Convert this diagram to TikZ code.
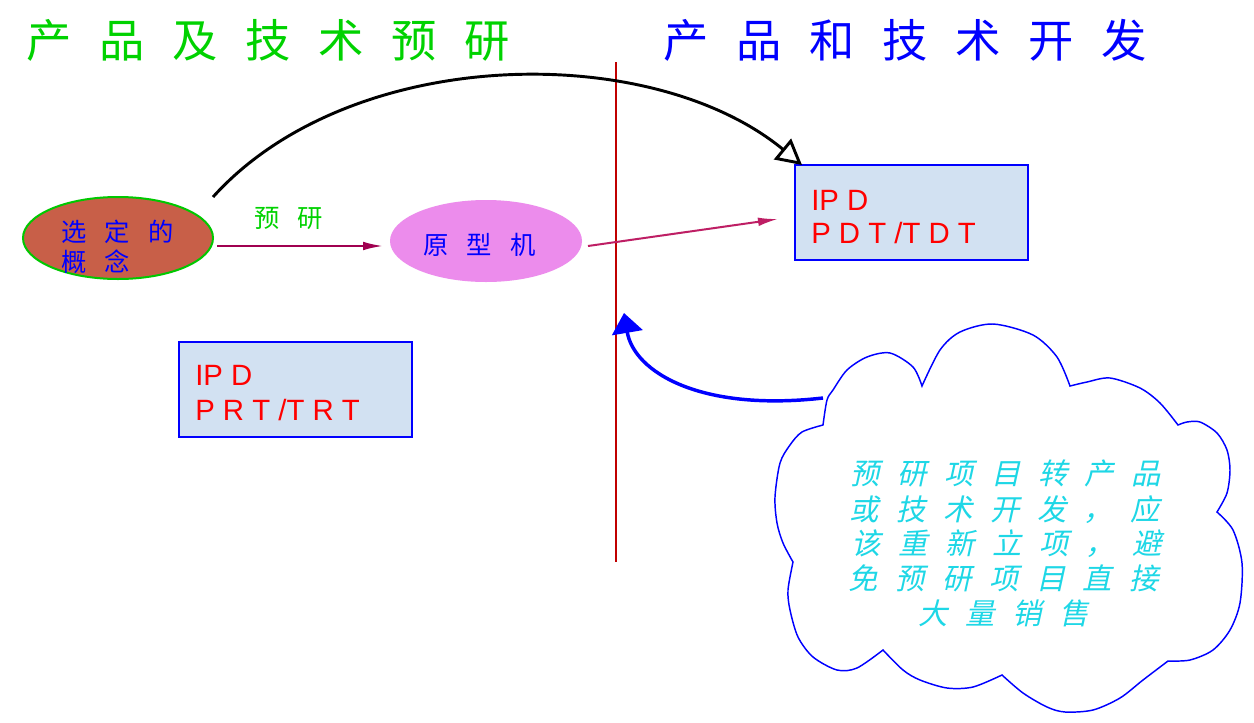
\documentclass[tikz,border=0pt]{standalone}
\usepackage{fontspec}
\setmainfont{Liberation Sans}
\newfontfamily\cjk{Noto Sans CJK SC}
\newfontfamily\cjktitle[LetterSpace=61]{Noto Sans CJK SC}
\newfontfamily\cjkell[LetterSpace=72]{Noto Sans CJK SC}
\newfontfamily\cjkcloud[LetterSpace=60,FakeSlant=0.22]{Noto Sans CJK SC}
\usetikzlibrary{arrows.meta,shapes.geometric}
\definecolor{tgreen}{RGB}{0,210,0}
\definecolor{tblue}{RGB}{0,0,255}
\definecolor{lred}{RGB}{192,0,0}
\definecolor{conc}{RGB}{200,95,72}
\definecolor{egreen}{RGB}{0,200,0}
\definecolor{proto}{RGB}{236,140,236}
\definecolor{arrone}{RGB}{160,0,80}
\definecolor{arrtwo}{RGB}{190,30,100}
\definecolor{boxfill}{RGB}{210,225,242}
\definecolor{cyantext}{RGB}{30,215,230}
\definecolor{txtred}{RGB}{255,0,0}
\tikzset{
  titletext/.style={anchor=base west,inner sep=0pt,font=\cjktitle\fontsize{34pt}{34pt}\selectfont},
  elltext/.style={anchor=base west,inner sep=0pt,text=tblue,font=\cjkell\fontsize{19pt}{19pt}\selectfont},
  cloudtext/.style={anchor=base west,inner sep=0pt,text=cyantext,font=\cjkcloud\fontsize{22pt}{22pt}\selectfont},
  boxtext/.style={anchor=base west,inner sep=0pt,text=txtred,font=\fontsize{22pt}{22pt}\selectfont},
  ipdbox/.style={draw=tblue,fill=boxfill,line width=1.5pt,rectangle,inner sep=0pt,
    minimum width=233*0.75pt,minimum height=95*0.75pt},
  flowarrow/.style={line width=1.5pt,-{Latex[length=15pt,width=6.5pt]}},
}
\begin{document}
\begin{tikzpicture}[x=0.75pt,y=-0.75pt]
\useasboundingbox[fill=white] (0,0) rectangle (1254,722);

% titles
\node[titletext,text=tgreen] (tleft) at (26,57) {产品及技术预研};
\node[titletext,text=tblue] (tright) at (663,57) {产品和技术开发};

% divider
\coordinate (ltop) at (616,62);
\coordinate (lbot) at (616,562);
\draw[lred,line width=1.5pt] (ltop) -- (lbot);

% ellipses
\node[ellipse,fill=conc,draw=egreen,line width=1.5pt,minimum width=190*0.75pt,minimum height=82*0.75pt] (concept) at (118,238) {};
\node[elltext] (ct1) at (61,241.5) {选定的};
\node[elltext] (ct2) at (61,271.5) {概念};

\node[ellipse,fill=proto,minimum width=192*0.75pt,minimum height=82*0.75pt] (proto) at (486,241) {};
\node[elltext] (pt) at (423,254.5) {原型机};

% arrows
\draw[flowarrow,arrone] (217,246) -- (383,246);
\node[elltext,text=tgreen] (yy) at (254,227) {预研};

% boxes
\node[ipdbox] (pdt) at (911.5,212.5) {};
\node[boxtext] (pdt1) at (811,210) {IP D};
\node[boxtext] (pdt2) at (811,243) {P D T /T D T};

\node[ipdbox] (prt) at (295.5,389.5) {};
\node[boxtext] (prt1) at (195,385) {IP D};
\node[boxtext] (prt2) at (195,420) {P R T /T R T};

\coordinate (p2s) at (588,246);
\coordinate (p2e) at (778,219);
\draw[flowarrow,arrtwo] (p2s) -- (p2e);

% big black arc
\coordinate (arcstart) at (213,197);
\coordinate (arcend) at (802,165);
\draw[black,line width=2.2pt,-{Triangle[open,length=19pt,width=20pt]}]
  (arcstart) .. controls (350,45) and (650,40) .. (arcend);

% cloud
\draw[tblue,line width=1.1pt,fill=white]
  plot[smooth] coordinates {(823,425)(802,432)(790,445)(780,463)(775,497)(777,523)(783,543)(793,562)}
  -- plot[smooth] coordinates {(793,562)(788,590)(790,610)(798,637)(813,657)(837,670)(857,668)(883,650)}
  -- plot[smooth] coordinates {(883,650)(903,670)(920,680)(947,688)(973,687)(1002,675)}
  -- plot[smooth] coordinates {(1002,675)(1023,693)(1047,707)(1065,712)(1093,710)(1120,698)(1143,680)(1168,661)}
  -- plot[smooth] coordinates {(1168,661)(1190,660)(1213,650)(1230,630)(1240,603)(1242,563)(1233,530)(1217,512)}
  -- plot[smooth] coordinates {(1217,512)(1227,493)(1230,470)(1227,450)(1217,433)(1200,422)(1187,422)(1178,425)}
  -- plot[smooth] coordinates {(1178,425)(1160,403)(1140,388)(1110,378)(1087,382)(1070,386)}
  -- plot[smooth] coordinates {(1070,386)(1057,357)(1033,335)(993,324)(960,332)(940,350)(922,386)}
  -- plot[smooth] coordinates {(922,386)(913,367)(890,353)(867,357)(847,370)(833,390)(827,400)(823,425)}
  -- cycle;

\node[cloudtext] (c1) at (850,484) {预研项目转产品};
\node[cloudtext] (c2) at (849,520) {或技术开发，应};
\node[cloudtext] (c3) at (851,554) {该重新立项，避};
\node[cloudtext] (c4) at (848,589) {免预研项目直接};
\node[cloudtext] (c5) at (918,624) {大量销售};

% blue arrow
\coordinate (cloudtip) at (823,398);
\coordinate (linetip) at (624,313);
\draw[tblue,line width=2.6pt,-{Triangle[length=15pt,width=23pt]}]
  (cloudtip) .. controls (700,412) and (634,372) .. (linetip);
\end{tikzpicture}
\end{document}
